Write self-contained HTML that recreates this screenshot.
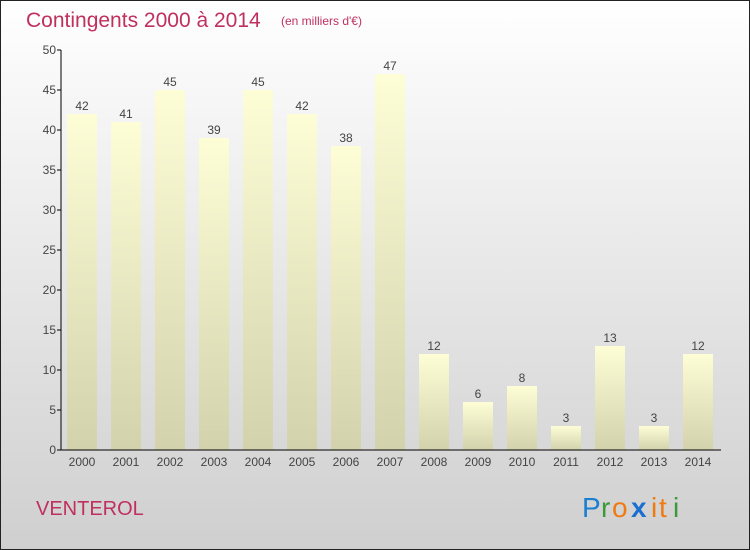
<!DOCTYPE html>
<html><head><meta charset="utf-8"><style>
body{margin:0}
svg{display:block;font-family:"Liberation Sans",sans-serif}
</style></head><body>
<svg id="c" width="750" height="550" viewBox="0 0 750 550">
<defs>
<linearGradient id="bg" x1="0" y1="0" x2="0" y2="1"><stop offset="0" stop-color="#ffffff"/><stop offset="1" stop-color="#cfcfcf"/></linearGradient>
<linearGradient id="bar" x1="0" y1="0" x2="0" y2="1"><stop offset="0" stop-color="#fdfdd6"/><stop offset="1" stop-color="#d2d2ac"/></linearGradient>
</defs>
<rect x="0.5" y="0.5" width="749" height="549" fill="url(#bg)" stroke="#222"/>
<text x="26" y="27" font-size="21" fill="#c0305e">Contingents 2000 à 2014</text>
<text x="281" y="25" font-size="12" fill="#c0305e">(en milliers d'€)</text>
<text x="36" y="515" font-size="20" fill="#c0305e">VENTEROL</text>
<g font-size="28">
<text x="582" y="517" fill="#1a7fd0">P</text><text x="601" y="517" fill="#3a9a3a">r</text><text x="612" y="517" fill="#f07a10">o</text><text x="631" y="517" fill="#1a6fd0" font-weight="bold">x</text><text x="651" y="517" fill="#f07a10">i</text><text x="659" y="517" fill="#f07a10">t</text><text x="673" y="517" fill="#3a9a3a">i</text>
</g>
<g id="plot"></g>
</svg>
<script>
const categories=["2000","2001","2002","2003","2004","2005","2006","2007","2008","2009","2010","2011","2012","2013","2014"];
const values=[42,41,45,39,45,42,38,47,12,6,8,3,13,3,12];
const yTicks=[0,5,10,15,20,25,30,35,40,45,50];
const NS="http://www.w3.org/2000/svg";
const g=document.getElementById('plot');
const x0=61,step=44,bw=30,yBase=450,yTop=50,yMax=50;
const y=v=>yBase-(v/yMax)*(yBase-yTop);
const xc=i=>x0+21+i*step;
function el(t,a){const e=document.createElementNS(NS,t);for(const k in a)e.setAttribute(k,a[k]);g.appendChild(e);return e;}
yTicks.forEach(t=>{
 const l=el('line',{x1:x0-4,x2:x0,y1:y(t),y2:y(t),stroke:'#000'});
 
 
 const tx=el('text',{x:x0-5,y:y(t)+4,'font-size':12,'text-anchor':'end',fill:'#444'});tx.textContent=t;
 
 
});
values.forEach((v,i)=>{
 const r=el('rect',{x:xc(i)-bw/2,y:y(v),width:bw,height:yBase-y(v),fill:'url(#bar)'});
 
 
 const t=el('text',{x:xc(i),y:y(v)-4,'font-size':12,'text-anchor':'middle',fill:'#444'});t.textContent=v;
 
 
 const c=el('text',{x:xc(i),y:466,'font-size':12,'text-anchor':'middle',fill:'#444'});c.textContent=categories[i];
 
 
});
const ya=el('line',{x1:x0,x2:x0,y1:yTop,y2:yBase,stroke:'#000'});


const xa=el('line',{x1:x0,x2:x0+15*step,y1:yBase,y2:yBase,stroke:'#000'});


</script>
</body></html>
